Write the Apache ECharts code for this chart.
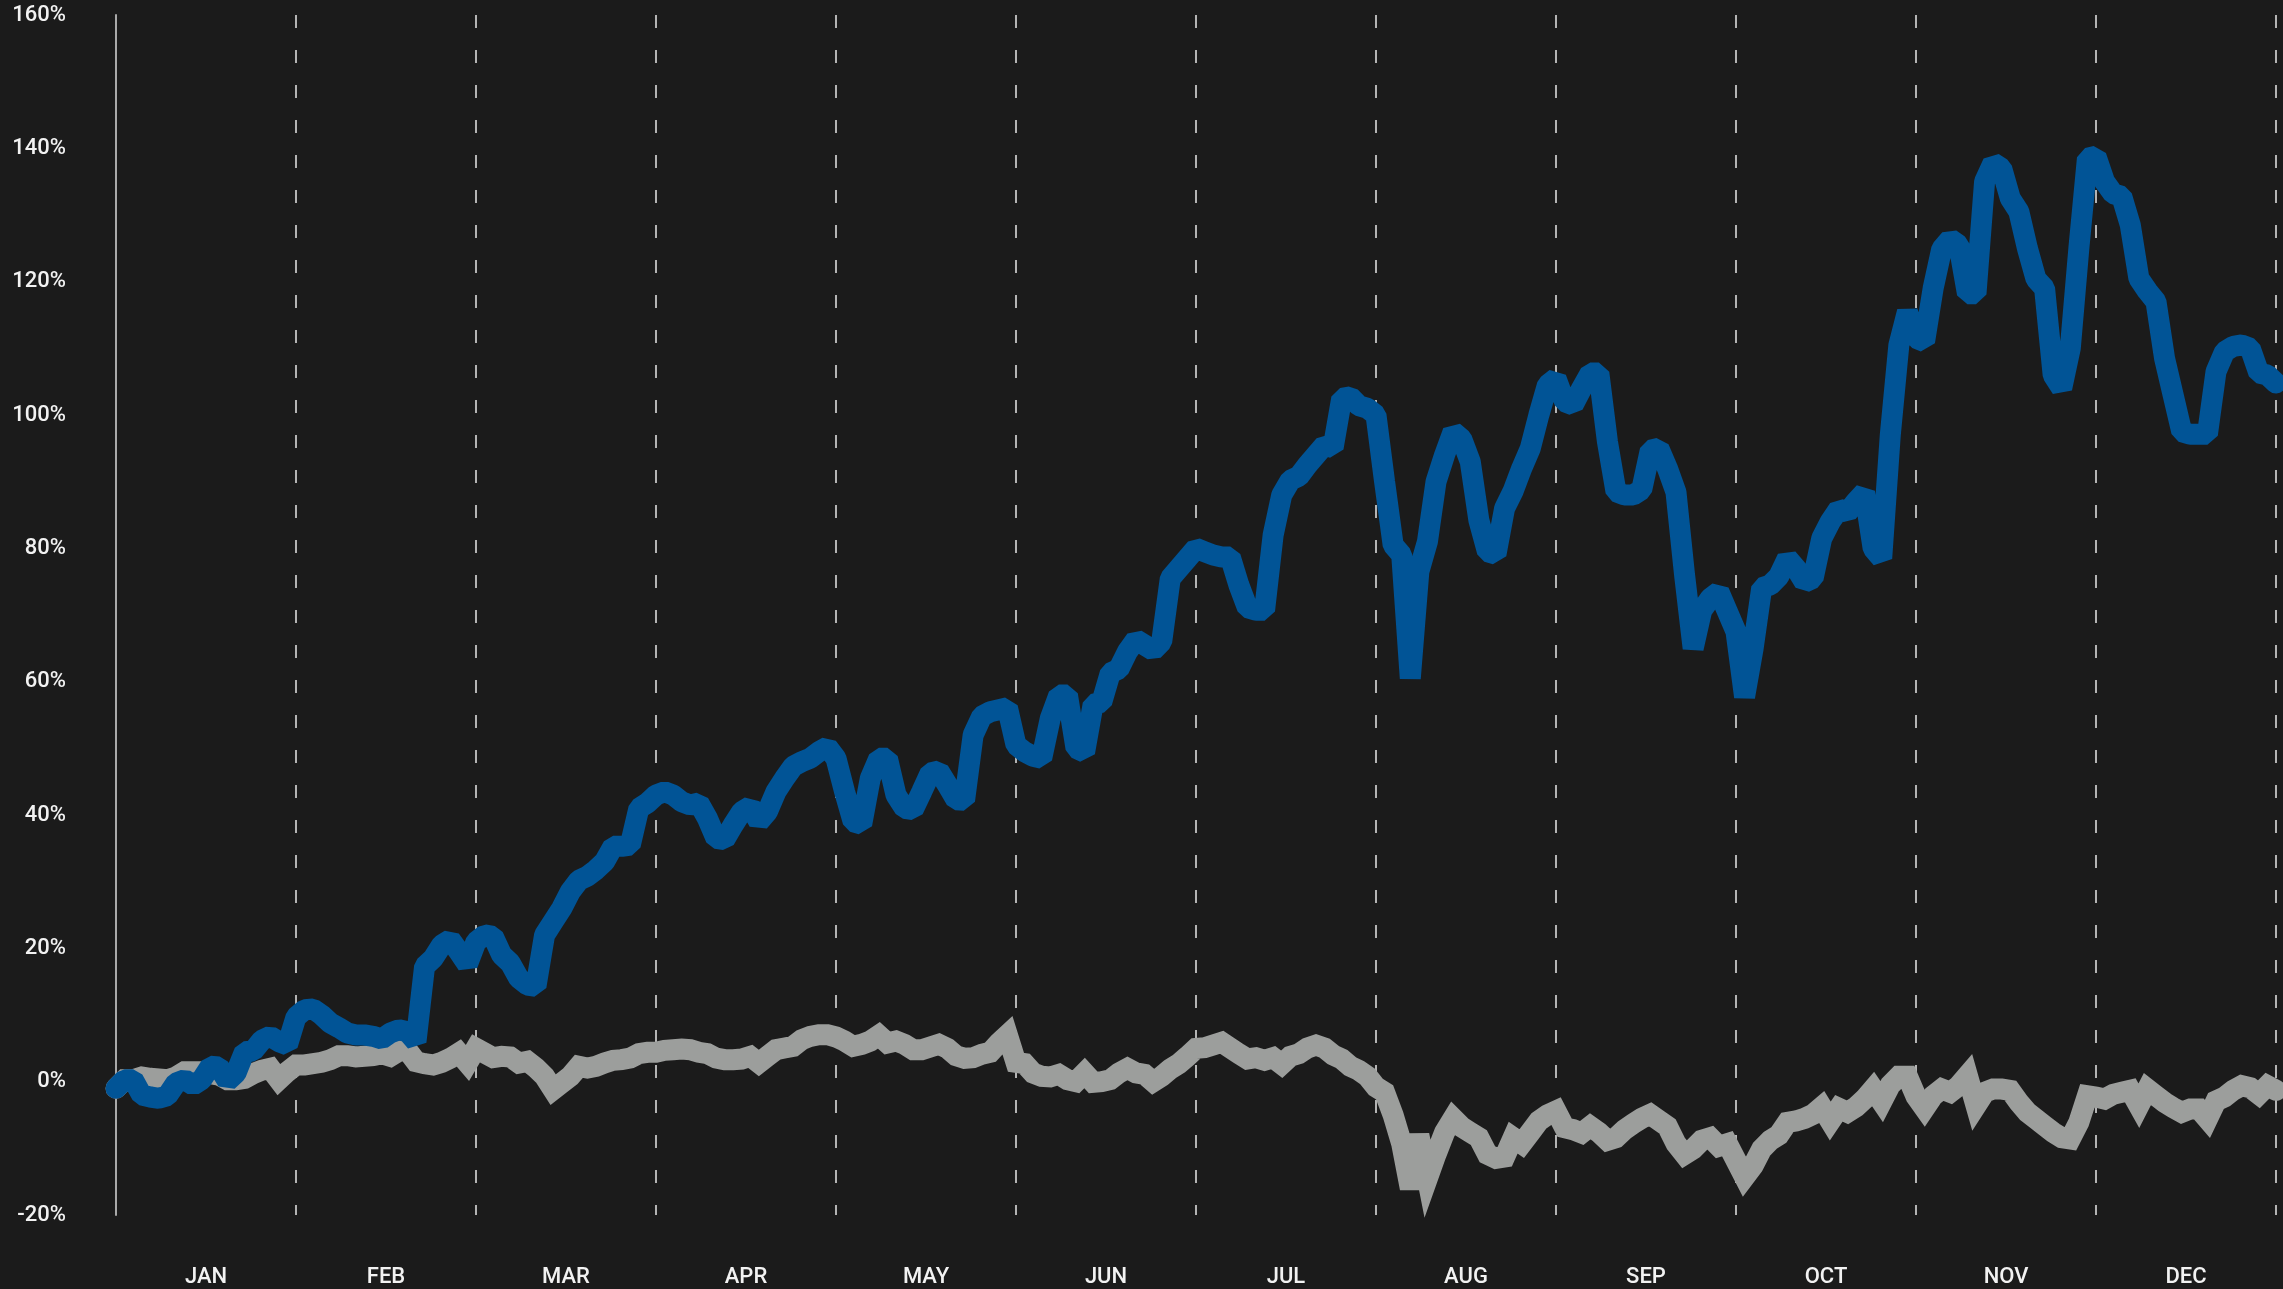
<!DOCTYPE html>
<html>
<head>
<meta charset="utf-8">
<script src="https://cdn.jsdelivr.net/npm/echarts@6/dist/echarts.min.js"></script>
<style>
html,body{margin:0;padding:0;background:#1b1b1b;}
#chart{width:2283px;height:1289px;}
</style>
</head>
<body>
<div id="chart"></div>
<script>
const months = ['JAN','FEB','MAR','APR','MAY','JUN','JUL','AUG','SEP','OCT','NOV','DEC'];
const yTicks = [-20, 0, 20, 40, 60, 80, 100, 120, 140, 160];
const tradingDaysPerMonth = 21;
const totalDays = 252;

// Blue series: daily cumulative return (%), one value per trading day
const blueSeries = [
  -1.0, 0.3, 0.3, -2.0, -2.3, -2.5, -2.1, -0.2, 0.3, -0.5, 0.3, 2.3, 2.2, 0.1, 1.3, 4.5, 4.6, 6.2, 6.8, 6.0, 5.5,
  9.7, 10.8, 10.9, 10.0, 8.8, 8.1, 7.3, 7.0, 7.0, 6.8, 6.4, 7.3, 7.8, 7.5, 6.0, 17.3, 18.5, 20.5, 21.3, 19.5, 17.6,
  21.0, 22.0, 21.8, 19.0, 17.8, 15.5, 14.5, 14.3, 22.0, 24.0, 26.0, 28.5, 30.2, 30.8, 31.8, 33.0, 35.3, 35.3, 35.5, 41.0, 41.8,
  43.0, 43.5, 43.0, 42.0, 41.5, 41.8, 39.5, 36.5, 36.3, 38.5, 40.5, 41.3, 39.0, 40.5, 43.5, 45.5, 47.3, 48.0, 48.5, 49.5, 50.2,
  48.5, 43.5, 39.0, 38.6, 45.5, 48.5, 48.5, 43.0, 41.0, 40.8, 43.5, 46.3, 46.6, 44.5, 42.3, 42.2, 52.0, 54.8, 55.5, 55.8, 56.1,
  50.5, 49.5, 48.8, 48.5, 54.5, 58.0, 58.0, 50.0, 49.4, 56.6, 56.9, 61.3, 61.9, 64.5, 66.3, 65.5, 64.7, 66.0, 75.5, 77.0, 78.5,
  80.0, 79.5, 79.0, 78.7, 78.7, 74.5, 71.1, 70.7, 70.7, 82.0, 88.0, 90.2, 90.8, 92.5, 94.0, 95.5, 95.1, 102.5, 102.7, 101.4, 101.0,
  100.0, 90.0, 80.5, 79.0, 60.5, 76.5, 81.0, 90.0, 94.0, 97.5, 96.4, 93.0, 84.2, 79.5, 79.1, 86.0, 88.6, 92.0, 95.0, 100.0, 104.5,
  105.5, 102.0, 101.5, 104.0, 106.3, 106.3, 96.0, 88.5, 88.0, 88.0, 88.8, 94.7, 95.0, 92.0, 88.4, 76.0, 65.0, 70.7, 72.5, 73.5, 70.5,
  67.5, 57.7, 65.0, 74.1, 74.5, 75.8, 78.5, 77.0, 74.9, 75.5, 81.5, 84.0, 85.9, 85.4, 87.0, 88.4, 80.0, 78.5, 97.0, 110.5, 115.5,
  111.5, 111.0, 119.0, 124.9, 126.4, 125.5, 118.2, 118.2, 135.0, 137.8, 137.0, 132.5, 130.5, 125.0, 120.4, 119.0, 106.0, 104.0, 110.0, 125.0, 138.5,
  138.8, 135.0, 133.2, 132.8, 128.5, 120.5, 118.6, 117.0, 108.5, 103.0, 97.5, 97.1, 97.1, 97.1, 106.5, 109.5, 110.3, 110.5, 110.0, 106.3, 106.0,
  104.8
];

// Gray series: benchmark daily cumulative return (%)
const graySeries = [
  -1.0, 0.3, 0.3, 0.7, 0.5, 0.4, 0.3, 0.7, 1.5, 1.5, 1.5, 1.2, 1.0, 0.3, 0.3, 0.5, 1.2, 1.7, 2.0, 0.3, 1.5,
  2.5, 2.5, 2.7, 2.9, 3.3, 3.9, 3.9, 3.7, 3.8, 3.9, 4.2, 3.8, 4.6, 4.7, 3.0, 2.7, 2.5, 2.9, 3.5, 4.3, 2.8,
  5.0, 4.3, 3.6, 3.8, 3.7, 2.8, 3.05, 2.05, 0.8, -1.2, -0.2, 0.8, 2.3, 2.05, 2.3, 2.8, 3.2, 3.3, 3.55, 4.2, 4.4,
  4.4, 4.7, 4.8, 4.9, 4.8, 4.4, 4.2, 3.55, 3.3, 3.3, 3.4, 3.8, 2.8, 3.8, 4.8, 5.05, 5.3, 6.3, 6.8, 7.05, 7.05,
  6.7, 6.1, 5.3, 5.6, 6.1, 6.95, 5.8, 6.1, 5.6, 4.8, 4.8, 5.2, 5.6, 5.0, 3.9, 3.5, 3.6, 4.1, 4.4, 5.8, 7.0,
  2.9, 2.7, 1.3, 0.8, 0.7, 1.1, 0.3, 0.0, 1.3, -0.1, 0.0, 0.3, 1.3, 2.0, 1.3, 1.1, 0.0, 0.8, 1.9, 2.7, 3.8,
  5.0, 5.1, 5.5, 5.9, 5.05, 4.2, 3.4, 3.6, 3.2, 3.6, 2.6, 3.8, 4.2, 5.05, 5.5, 5.05, 4.0, 3.4, 2.3, 1.7, 0.8,
  -0.8, -1.6, -5.0, -9.3, -16.0, -8.0, -14.5, -10.9, -7.6, -5.5, -6.8, -7.6, -8.4, -10.9, -11.5, -11.3, -8.4, -9.3, -7.6, -5.9, -5.0,
  -4.4, -6.9, -7.2, -7.7, -6.7, -7.6, -8.8, -8.4, -7.2, -6.3, -5.5, -4.9, -5.8, -6.7, -9.3, -10.9, -10.1, -8.8, -8.4, -9.7, -9.3,
  -11.8, -14.3, -12.6, -10.1, -8.8, -8.0, -6.1, -5.9, -5.5, -4.9, -3.8, -5.9, -4.0, -4.6, -3.8, -2.6, -1.1, -3.0, -0.5, 0.8, 0.8,
  -2.2, -4.0, -2.1, -1.1, -1.6, -0.6, 0.9, -3.6, -1.6, -1.1, -1.1, -1.3, -3.1, -4.6, -5.6, -6.6, -7.6, -8.4, -8.6, -6.1, -2.1,
  -2.3, -2.6, -1.9, -1.6, -1.3, -3.6, -1.1, -2.1, -3.1, -3.9, -4.6, -4.1, -4.1, -5.6, -2.9, -2.3, -1.3, -0.6, -0.9, -1.9, -0.6,
  -1.3
];

const FONT = 'Roboto, "DejaVu Sans Condensed", sans-serif';

const chart = echarts.init(document.getElementById('chart'), null, {renderer: 'canvas'});
chart.setOption({
  backgroundColor: '#1b1b1b',
  animation: false,
  grid: {left: 116, right: 7, top: 15, bottom: 74, containLabel: false, outerBoundsMode: 'none'},
  xAxis: [
    {
      type: 'value',
      min: 0,
      max: totalDays,
      interval: tradingDaysPerMonth,
      axisLine: {show: false},
      axisTick: {show: false},
      axisLabel: {show: false},
      splitLine: {
        show: true,
        showMinLine: false,
        lineStyle: {color: '#b4b4b4', width: 2, type: [13, 22]}
      }
    },
    {
      type: 'category',
      data: months,
      boundaryGap: true,
      position: 'bottom',
      axisLine: {show: false},
      axisTick: {show: false},
      splitLine: {show: false},
      axisLabel: {color: '#f2f2f2', fontSize: 22, fontWeight: 500, fontFamily: FONT, margin: 51}
    }
  ],
  yAxis: {
    type: 'value',
    min: yTicks[0],
    max: yTicks[yTicks.length - 1],
    interval: 20,
    axisLine: {show: true, lineStyle: {color: '#a9a9a9', width: 2}},
    axisTick: {show: false},
    splitLine: {show: false},
    axisLabel: {
      color: '#f2f2f2', fontSize: 22, fontWeight: 500, fontFamily: FONT, margin: 50,
      formatter: function (v) { return v + '%'; }
    }
  },
  series: [
    {
      type: 'line',
      xAxisIndex: 0,
      data: graySeries.map(function (v, i) { return [i, v]; }),
      showSymbol: false,
      symbol: 'none',
      smooth: false,
      lineStyle: {color: '#9c9e9c', width: 21, join: 'miter', miterLimit: 4, cap: 'round'},
      z: 2
    },
    {
      type: 'line',
      xAxisIndex: 0,
      data: blueSeries.map(function (v, i) { return [i, v]; }),
      showSymbol: false,
      symbol: 'none',
      smooth: false,
      lineStyle: {color: '#015496', width: 21, join: 'bevel', cap: 'round'},
      z: 3
    }
  ]
});
</script>
</body>
</html>
